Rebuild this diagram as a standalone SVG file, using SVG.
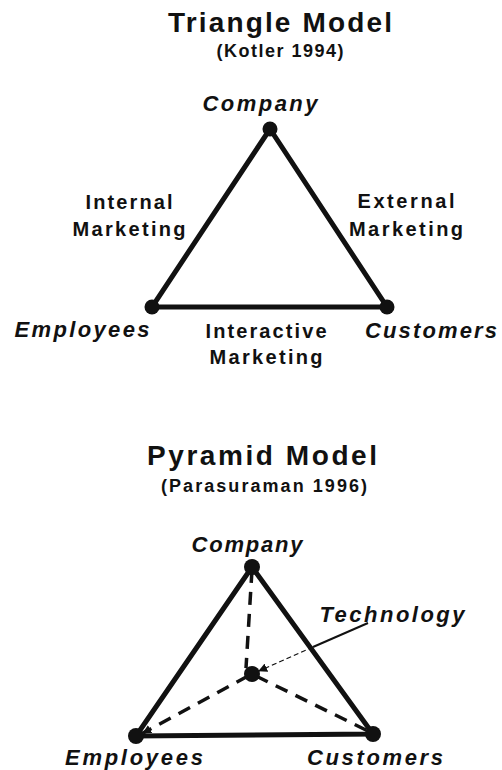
<svg xmlns="http://www.w3.org/2000/svg" width="502" height="770" viewBox="0 0 502 770">
<style>
text{font-family:"Liberation Sans",Arial,sans-serif;font-weight:bold;fill:#111}
.title{font-size:28px}
.sub{font-size:18px}
.lbl{font-size:20px}
.node{font-size:22px;font-style:italic}
.edge{stroke:#111;stroke-width:5;fill:none;stroke-linecap:round}
.dash{stroke:#111;stroke-width:3.5;fill:none;stroke-dasharray:13 9}
.dot{fill:#111}
</style>
<defs>
<marker id="arr" viewBox="0 0 10 10" refX="9" refY="5" markerWidth="9" markerHeight="9" markerUnits="userSpaceOnUse" orient="auto">
<path d="M0,0 L10,5 L0,10 z" fill="#111"/>
</marker>
</defs>
<rect width="502" height="770" fill="#fff"/>

<text class="title" x="280" y="32" text-anchor="middle" textLength="224" lengthAdjust="spacing">Triangle Model</text>
<text class="sub" x="280" y="57" text-anchor="middle" textLength="127" lengthAdjust="spacing">(Kotler 1994)</text>

<g id="edges-triangle">
<path class="edge" d="M270,129 L152,307 L387,307 Z"/>
</g>
<text class="lbl" x="129" y="209" text-anchor="middle" textLength="87" lengthAdjust="spacing">Internal</text>
<text class="lbl" x="129" y="236" text-anchor="middle" textLength="113" lengthAdjust="spacing">Marketing</text>
<text class="lbl" x="406" y="208" text-anchor="middle" textLength="97" lengthAdjust="spacing">External</text>
<text class="lbl" x="406" y="236" text-anchor="middle" textLength="114" lengthAdjust="spacing">Marketing</text>
<text class="lbl" x="266" y="338" text-anchor="middle" textLength="121" lengthAdjust="spacing">Interactive</text>
<text class="lbl" x="266" y="364" text-anchor="middle" textLength="113" lengthAdjust="spacing">Marketing</text>

<g id="t-company">
<circle class="dot" cx="270" cy="129" r="7.5"/>
<text class="node" x="260" y="111" text-anchor="middle" textLength="115" lengthAdjust="spacing">Company</text>
</g>
<g id="t-employees">
<circle class="dot" cx="152" cy="307" r="7.5"/>
<text class="node" x="82" y="337" text-anchor="middle" textLength="135" lengthAdjust="spacing">Employees</text>
</g>
<g id="t-customers">
<circle class="dot" cx="387" cy="307" r="7.5"/>
<text class="node" x="431" y="338" text-anchor="middle" textLength="132" lengthAdjust="spacing">Customers</text>
</g>

<text class="title" x="262" y="465" text-anchor="middle" textLength="230" lengthAdjust="spacing">Pyramid Model</text>
<text class="sub" x="264" y="492" text-anchor="middle" textLength="206" lengthAdjust="spacing">(Parasuraman 1996)</text>

<g id="connectors">
<path class="edge" d="M252,567 L136,736 L373,734 Z"/>
<path class="dash" d="M252,570 L246,668"/>
<path class="dash" d="M248,676 L143,733" marker-end="url(#arr)"/>
<path class="dash" d="M256,676 L370,732"/>
<path d="M368,623 L313,647" stroke="#111" stroke-width="2" fill="none"/>
<path d="M313,647 L259,671" stroke="#111" stroke-width="1.3" fill="none" stroke-dasharray="5 3" marker-end="url(#arr)"/>
</g>

<g id="p-company">
<circle class="dot" cx="252" cy="567" r="8"/>
<text class="node" x="247" y="552" text-anchor="middle" textLength="111" lengthAdjust="spacing">Company</text>
</g>
<g id="p-center">
<circle class="dot" cx="252" cy="674" r="8"/>
</g>
<g id="p-technology">
<text class="node" x="392" y="622" text-anchor="middle" textLength="145" lengthAdjust="spacing">Technology</text>
</g>
<g id="p-employees">
<circle class="dot" cx="136" cy="736" r="8"/>
<text class="node" x="134" y="765" text-anchor="middle" textLength="138" lengthAdjust="spacing">Employees</text>
</g>
<g id="p-customers">
<circle class="dot" cx="373" cy="734" r="8"/>
<text class="node" x="375" y="765" text-anchor="middle" textLength="136" lengthAdjust="spacing">Customers</text>
</g>
</svg>
